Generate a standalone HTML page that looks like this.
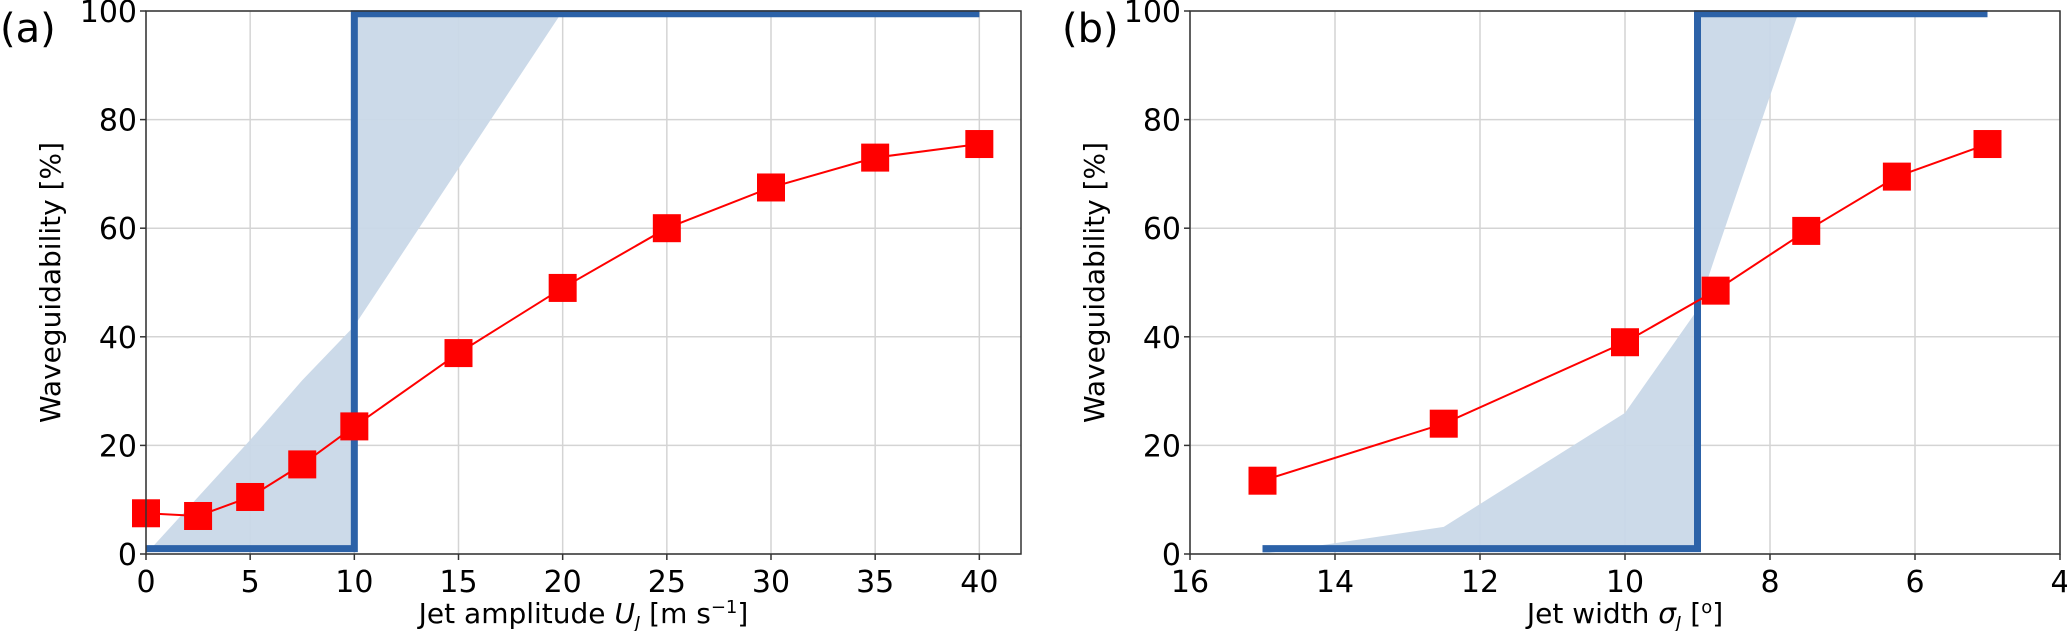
<!DOCTYPE html>
<html><head><meta charset="utf-8"><style>
html,body{margin:0;padding:0;background:#fff;}
svg{display:block;font-family:"DejaVu Sans","Liberation Sans",sans-serif;}
</style></head><body>
<svg id="fig" width="2067" height="631" viewBox="0 0 2067 631"></svg>
<script>
// Panel (a) data
const aX = [0, 2.5, 5, 7.5, 10, 15, 20, 25, 30, 35, 40];
const aY = [7.5, 7, 10.5, 16.5, 23.5, 37, 49, 60, 67.5, 73, 75.5];
const aStepX = [0, 10, 10, 40];
const aStepY = [1, 1, 99.5, 99.5];
const aShadeX = [0, 5, 7.5, 10, 15, 20, 40];
const aShadeY = [0, 21, 32, 42, 71, 100, 100];
const aXTicks = [0, 5, 10, 15, 20, 25, 30, 35, 40];
// Panel (b) data
const bX = [15, 12.5, 10, 8.75, 7.5, 6.25, 5];
const bY = [13.5, 24, 39, 48.5, 59.5, 69.5, 75.5];
const bStepX = [15, 9, 9, 5];
const bStepY = [1, 1, 99.5, 99.5];
const bShadeX = [15, 12.5, 10, 9, 8.75, 7.6, 5];
const bShadeY = [0, 5, 26, 45, 55, 100, 100];
const bXTicks = [16, 14, 12, 10, 8, 6, 4];
const yTicks = [0, 20, 40, 60, 80, 100];

const NS = "http://www.w3.org/2000/svg";
const svg = document.getElementById("fig");
function mk(tag, attrs, parent){const e=document.createElementNS(NS,tag);for(const k in attrs)e.setAttribute(k,attrs[k]);(parent||svg).appendChild(e);return e;}

function panel(cfg){
  const g = mk("g",{});
  
  
  const L=cfg.left,R=cfg.right,T=11,B=554;
  const sx=v=>L+(v-cfg.x0)/(cfg.x1-cfg.x0)*(R-L);
  const sy=v=>B-(v/100)*(B-T);
  cfg.ticks.forEach(t=>{const l=mk("line",{x1:sx(t),x2:sx(t),y1:T,y2:B,stroke:"#d4d4d4","stroke-width":1.5},g);
    
    });
  yTicks.forEach(t=>{const l=mk("line",{x1:L,x2:R,y1:sy(t),y2:sy(t),stroke:"#d4d4d4","stroke-width":1.5},g);
    
    });
  let pts=cfg.shX.map((x,i)=>sx(x)+","+sy(cfg.shY[i]));
  for(let i=cfg.stX.length-1;i>=0;i--) pts.push(sx(cfg.stX[i])+","+sy(Math.min(cfg.stY[i],100)));
  const sh=mk("polygon",{points:pts.join(" "),fill:"#c9d8e8",opacity:0.95},g);
  
  
  const st=mk("polyline",{points:cfg.stX.map((x,i)=>sx(x)+","+sy(cfg.stY[i])).join(" "),fill:"none",stroke:"#2c62a8","stroke-width":7},g);
  
  
  const rl=mk("polyline",{points:cfg.dx.map((x,i)=>sx(x)+","+sy(cfg.dy[i])).join(" "),fill:"none",stroke:"#ff0000","stroke-width":2},g);
  
  
  cfg.dx.forEach((x,i)=>{const r=mk("rect",{x:sx(x)-14,y:sy(cfg.dy[i])-14,width:28,height:28,fill:"#ff0000"},g);
    
    });
  const fr=mk("rect",{x:L,y:T,width:R-L,height:B-T,fill:"none",stroke:"#333","stroke-width":1.5},g);
  
  
  cfg.ticks.forEach(t=>{mk("line",{x1:sx(t),x2:sx(t),y1:B,y2:B+6,stroke:"#333","stroke-width":1.5},g);
    const tx=mk("text",{x:sx(t),y:592,"text-anchor":"middle","font-size":30},g);tx.textContent=t;
    
    });
  yTicks.forEach(t=>{mk("line",{x1:L-6,x2:L,y1:sy(t),y2:sy(t),stroke:"#333","stroke-width":1.5},g);
    const tx=mk("text",{x:L-9,y:sy(t)+11,"text-anchor":"end","font-size":30},g);tx.textContent=t;
    
    });
  const yl=mk("text",{x:0,y:0,transform:`translate(${L-86},${(T+B)/2}) rotate(-90)`,"text-anchor":"middle","font-size":28},g);
  yl.textContent="Waveguidability [%]";
  
  
  const xl=mk("text",{x:(L+R)/2,y:623,"text-anchor":"middle","font-size":28},g);
  xl.innerHTML=cfg.xlabel;
  
  
  const pl=mk("text",{x:cfg.plx,y:42,"font-size":40},g);
  pl.textContent=cfg.pl;
  
  
}
panel({name:"panel-a",left:146,right:1021,x0:0,x1:42,ticks:aXTicks,dx:aX,dy:aY,stX:aStepX,stY:aStepY,shX:aShadeX,shY:aShadeY,
  xlabel:'Jet amplitude <tspan font-style="italic">U</tspan><tspan font-style="italic" font-size="18" dy="6">J</tspan><tspan dy="-6"> [m s</tspan><tspan font-size="18" dy="-10">−1</tspan><tspan dy="10">]</tspan>',pl:"(a)",plx:0});
panel({name:"panel-b",left:1190,right:2060,x0:16,x1:4,ticks:bXTicks,dx:bX,dy:bY,stX:bStepX,stY:bStepY,shX:bShadeX,shY:bShadeY,
  xlabel:'Jet width <tspan font-style="italic">σ</tspan><tspan font-style="italic" font-size="18" dy="6">J</tspan><tspan dy="-6"> [</tspan><tspan font-size="18" dy="-10">o</tspan><tspan dy="10">]</tspan>',pl:"(b)",plx:1062});
</script>
</body></html>
